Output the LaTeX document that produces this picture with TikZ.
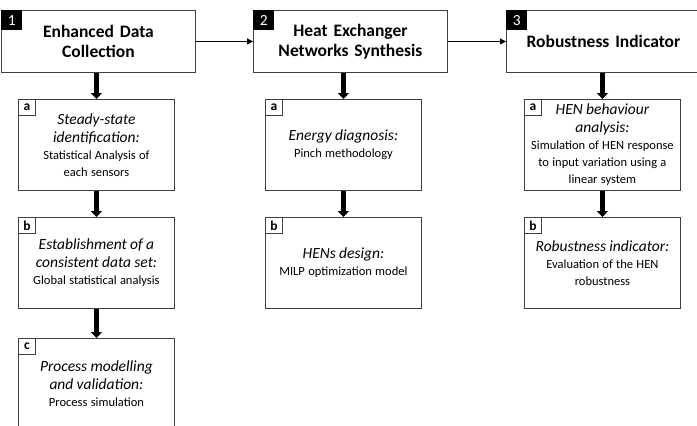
\documentclass[tikz,border=0pt]{standalone}
\usepackage{fontspec}
\setmainfont{Carlito}
\usetikzlibrary{positioning}
\usetikzlibrary{calc}
\usetikzlibrary{arrows.meta}

\newcommand{\tasktitle}{\fontsize{15.5}{18}\selectfont\itshape}
\newcommand{\taskbody}{\fontsize{12.5}{17}\selectfont}

\begin{document}
\begin{tikzpicture}[x=1pt,y=-1pt,
	stage/.style={draw=black!75,line width=0.9pt,anchor=north west,minimum width=194pt,minimum height=62pt,
		text width=180pt,align=center,inner sep=0pt,font=\fontsize{17.5}{20}\selectfont\bfseries},
	task/.style={draw=black!75,line width=0.9pt,anchor=north west,minimum width=156pt,minimum height=91pt,
		text width=150pt,align=center,inner sep=0pt},
	num/.style={fill=black,text=white,anchor=north west,minimum width=21pt,minimum height=20pt,
		inner sep=0pt,font=\fontsize{15.5}{15.5}\selectfont},
	letter/.style={draw=black!75,line width=0.9pt,fill=white,anchor=north west,minimum width=17pt,
		minimum height=16pt,inner sep=0pt,font=\fontsize{13.5}{13.5}\selectfont\bfseries},
	flow/.style={-{Triangle[length=6pt,width=6pt]},line width=0.8pt},
	down/.style={-{Triangle[length=6pt,width=11pt]},line width=4.5pt}
]
	\clip (0,0) rectangle (697,426);
	\fill[white] (0,0) rectangle (697,426);

	\node[stage] (h1) at (1,10) {Enhanced Data\\Collection};
	\node[stage] (h2) at (253,10) {Heat Exchanger\\Networks Synthesis};
	\node[stage] (h3) at (506,10) {Robustness Indicator};
	\node[num] (n1) at (h1.north west) {1};
	\node[num] (n2) at (h2.north west) {2};
	\node[num] (n3) at (h3.north west) {3};

	\node[task] (a1) at (18,99) {{\tasktitle Steady-state\\identification:\par}{\taskbody Statistical Analysis of\\each sensors\par}};
	\node[task] (b1) at (18,217) {{\tasktitle Establishment of a\\consistent data set:\par}{\taskbody Global statistical analysis\par}};
	\node[task] (c1) at (18,338) {{\tasktitle Process modelling\\and validation:\par}{\taskbody Process simulation\par}};
	\node[task] (a2) at (265,99) {{\tasktitle Energy diagnosis:\par}{\taskbody Pinch methodology\par}};
	\node[task] (b2) at (265,217) {{\tasktitle HENs design:\par}{\taskbody MILP optimization model\par}};
	\node[task] (a3) at (524,99) {{\tasktitle HEN behaviour\\analysis:\par}{\taskbody Simulation of HEN response\\to input variation using a\\linear system\par}};
	\node[task] (b3) at (524,217) {{\tasktitle Robustness indicator:\par}{\taskbody Evaluation of the HEN\\robustness\par}};

	\node[letter] (la1) at (a1.north west) {a};
	\node[letter] (lb1) at (b1.north west) {b};
	\node[letter] (lc1) at (c1.north west) {c};
	\node[letter] (la2) at (a2.north west) {a};
	\node[letter] (lb2) at (b2.north west) {b};
	\node[letter] (la3) at (a3.north west) {a};
	\node[letter] (lb3) at (b3.north west) {b};

	\draw[flow] (h1) -- (h2);
	\draw[flow] (h2) -- (h3);
	\draw[down] (a1.north |- h1.south) -- (a1.north);
	\draw[down] (a1) -- (b1);
	\draw[down] (b1) -- (c1);
	\draw[down] (a2.north |- h2.south) -- (a2.north);
	\draw[down] (a2) -- (b2);
	\draw[down] (a3.north |- h3.south) -- (a3.north);
	\draw[down] (a3) -- (b3);
\end{tikzpicture}
\end{document}
